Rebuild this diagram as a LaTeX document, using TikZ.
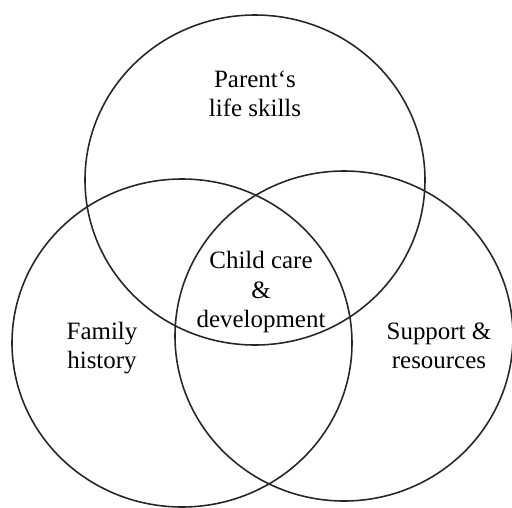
\documentclass[tikz,border=0pt]{standalone}
\usepackage{fontspec}
\setmainfont{Liberation Serif}
\usepackage{tikz}

\begin{document}
\begin{tikzpicture}[x=0.02cm,y=-0.02cm,
        set/.style={draw=black!85,line width=0.9pt},
        every node/.style={align=center,inner sep=0pt,
          font=\fontsize{14.2pt}{16.8pt}\selectfont}]
        \useasboundingbox (0,0) rectangle (512,508);
        % the three sets
        \draw[set] (255,180) ellipse [x radius=170,y radius=165];
        \draw[set] (182,343) ellipse [x radius=170,y radius=164];
        \draw[set] (344,336) ellipse [x radius=169,y radius=165];
        % labels
        \node (parent) at (255,94) {Parent‘s\\life skills};
        \node (child) at (261,292) {Child care\\\&\\development};
        \node (family) at (102,348) {Family\\history};
        \node (support) at (439,346) {Support \&\\resources};
      \end{tikzpicture}
\end{document}
